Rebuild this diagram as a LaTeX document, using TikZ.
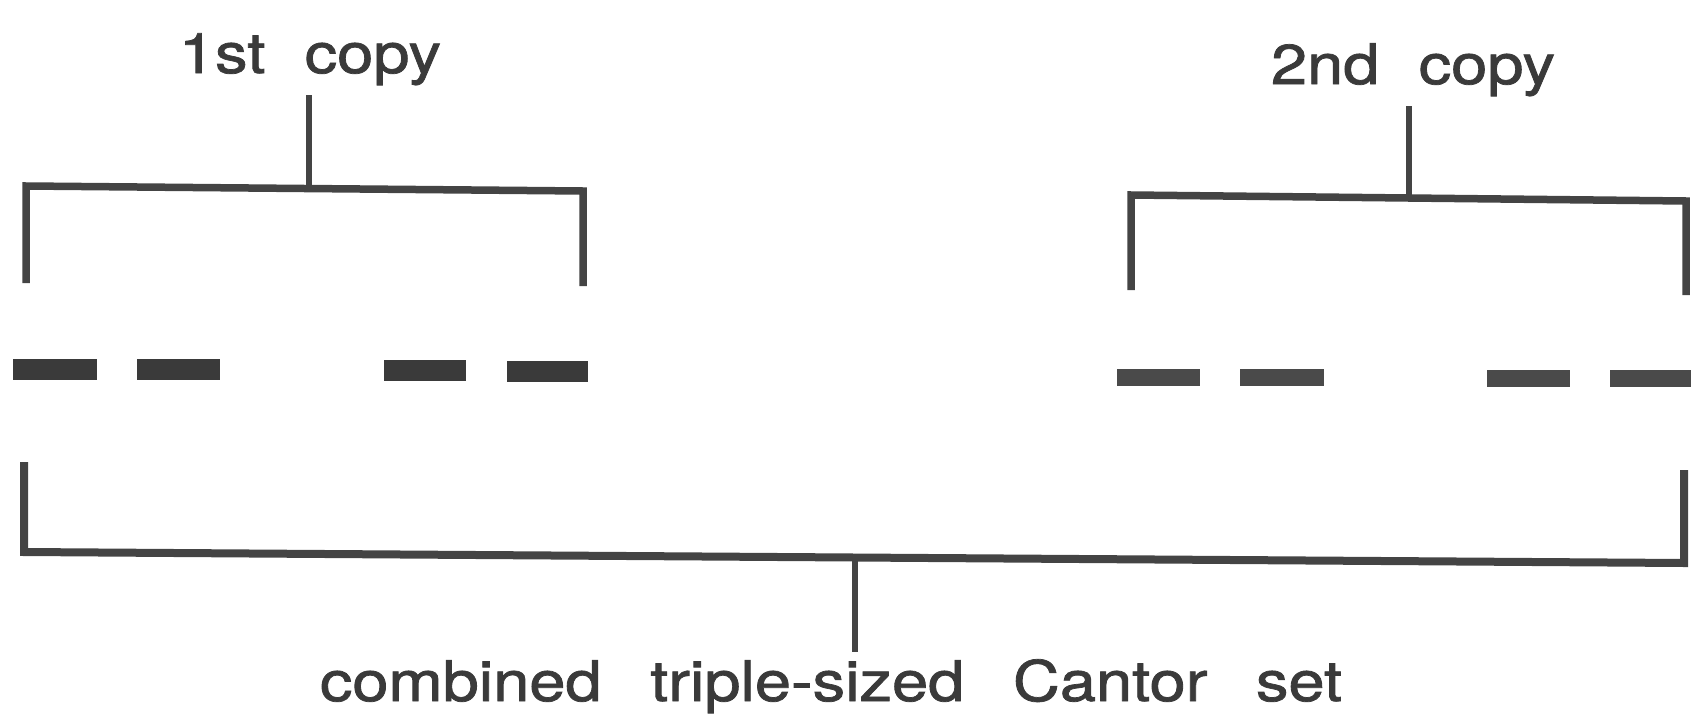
\documentclass[tikz,border=0pt]{standalone}
\usepackage{fontspec}
\setmainfont{TeX Gyre Heros}
\newfontfamily\labfont[FakeBold=1.3]{TeX Gyre Heros}
\usepackage{graphicx}
\definecolor{ink}{HTML}{3A3A3A}
\definecolor{lineink}{HTML}{444444}
\begin{document}
\begin{tikzpicture}[x=1pt,y=-1pt,line join=miter,line cap=butt,
  brk/.style={draw=lineink,line width=7.5pt},
  bigbrk/.style={draw=lineink,line width=8pt},
  stem/.style={draw=lineink,line width=6pt},
  lab/.style={text=ink,anchor=base,inner sep=0pt,font=\labfont\fontsize{56}{60}\selectfont},
  dashA/.style={fill=ink},
  dashB/.style={fill=ink!92}]
\useasboundingbox (0,0) rectangle (1691,720);
% labels
\node[lab] (t1) at (310,73) {\scalebox{1.16}[1]{1st\hspace{34pt}copy}};
\node[lab] (t2) at (1413,84) {\scalebox{1.16}[1]{2nd\hspace{34pt}copy}};
\node[lab] (t3) at (831,701) {\scalebox{1.16}[1]{combined\hspace{42pt}triple-sized\hspace{42pt}Cantor\hspace{42pt}set}};
% first bracket
\coordinate (s1a) at (309,95);
\coordinate (s1b) at (309,188.5);
\coordinate (b1l) at (26,283);
\coordinate (b1lt) at (26,186);
\coordinate (b1rt) at (583,191);
\coordinate (b1r) at (583,286);
\draw[brk] (b1l) -- (b1lt) -- (b1rt) -- (b1r);
\draw[stem] (s1a) -- (s1b);
% second bracket
\coordinate (s2a) at (1409,106);
\coordinate (s2b) at (1409,198);
\coordinate (b2l) at (1131,290);
\coordinate (b2lt) at (1131,195);
\coordinate (b2rt) at (1686,201);
\coordinate (b2r) at (1686,295);
\draw[brk] (b2l) -- (b2lt) -- (b2rt) -- (b2r);
\draw[stem] (s2a) -- (s2b);
% bottom bracket
\coordinate (b3l) at (24,462);
\coordinate (b3lb) at (24,552);
\coordinate (b3rb) at (1684,563);
\coordinate (b3r) at (1684,470);
\coordinate (s3a) at (855,557.5);
\coordinate (s3b) at (855,652);
\draw[bigbrk] (b3l) -- (b3lb) -- (b3rb) -- (b3r);
\draw[stem] (s3a) -- (s3b);
% first copy dashes
\fill[dashA] (13,359) rectangle (97,380);
\fill[dashA] (137,359) rectangle (220,380);
\fill[dashA] (384,360) rectangle (466,381);
\fill[dashA] (507,361) rectangle (588,382);
% second copy dashes
\fill[dashB] (1117,369) rectangle (1200,386);
\fill[dashB] (1240,369) rectangle (1324,386);
\fill[dashB] (1487,370) rectangle (1570,387);
\fill[dashB] (1610,370) rectangle (1691,387);
\end{tikzpicture}
\end{document}
